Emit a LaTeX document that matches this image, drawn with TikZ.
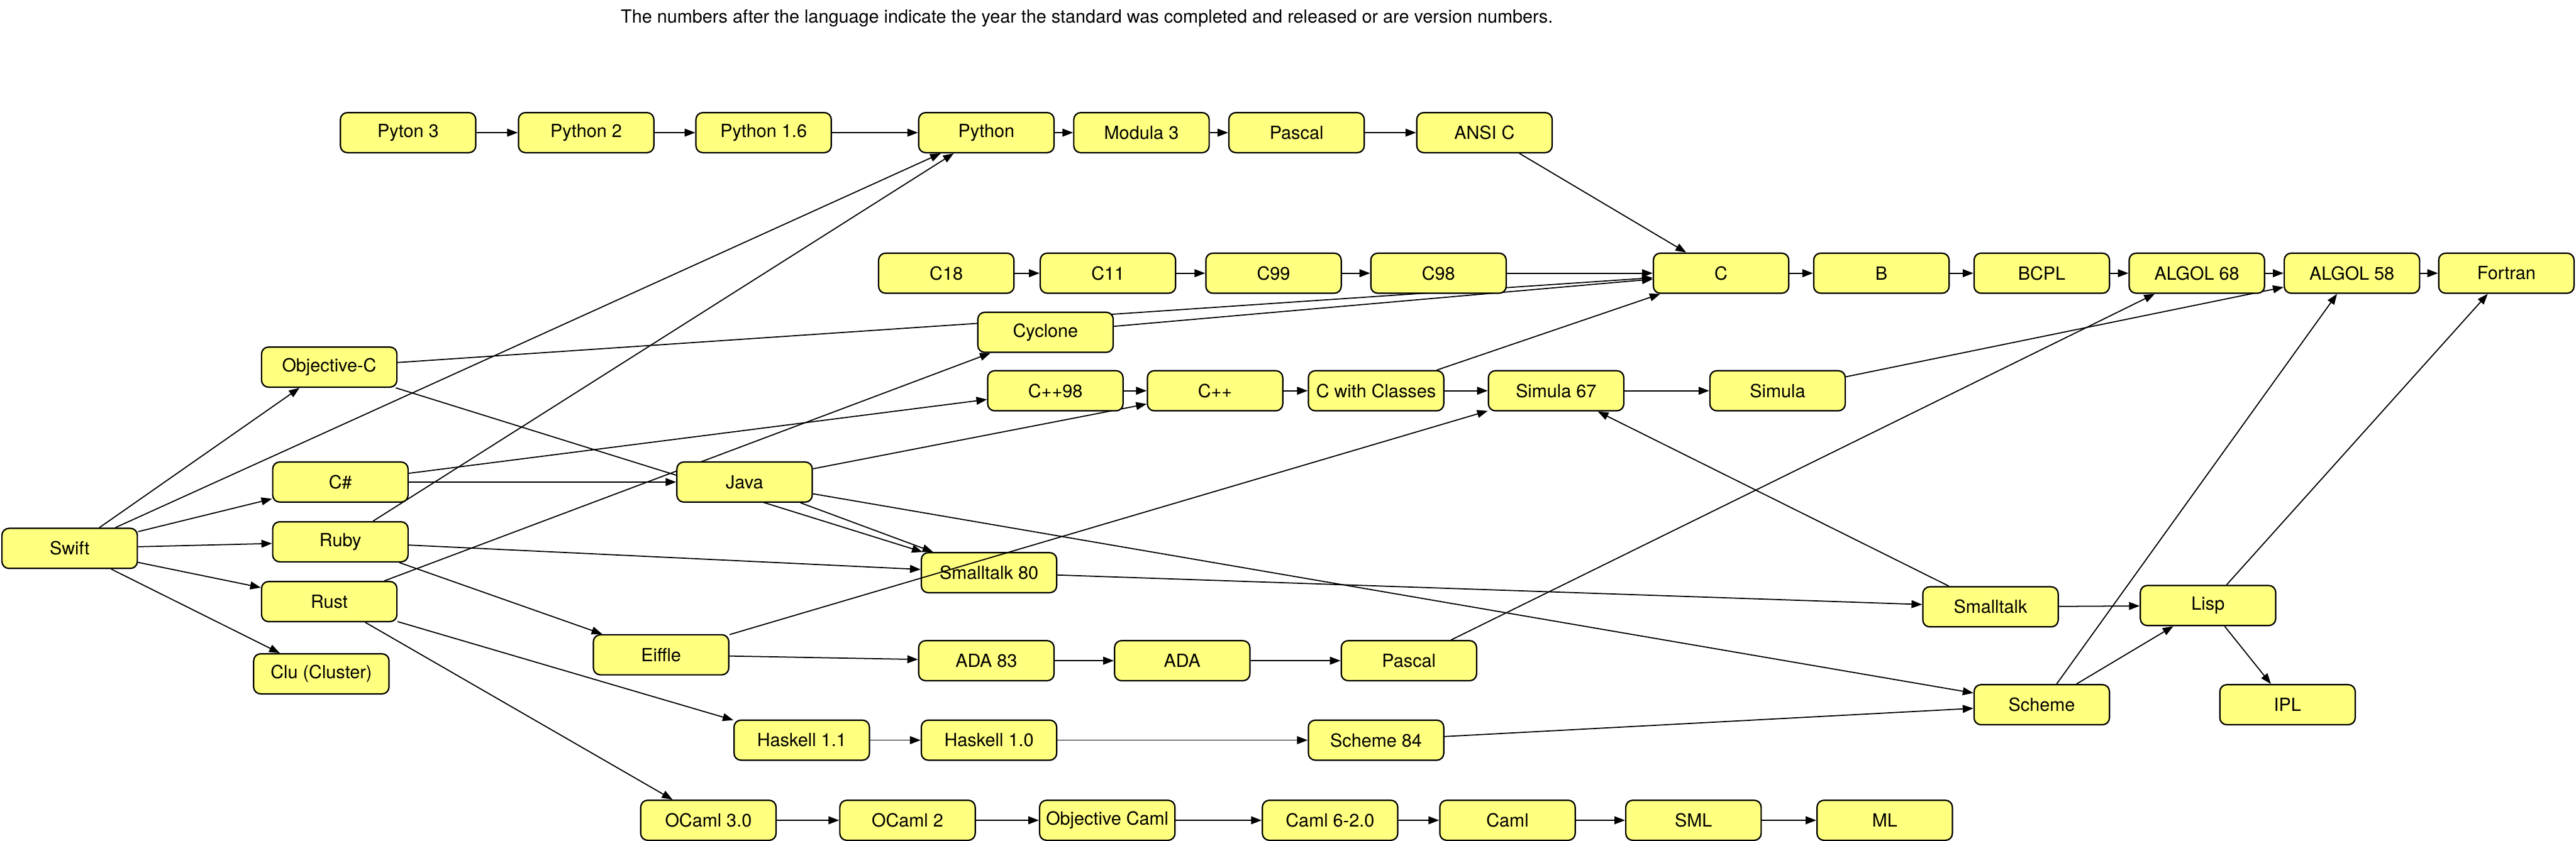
\documentclass[tikz,border=0pt]{standalone}
\usepackage{fontspec}
\setmainfont{TeX Gyre Heros}
\usetikzlibrary{arrows.meta,backgrounds}
\definecolor{langfill}{RGB}{255,255,128}
\tikzset{
  lang/.style={draw, line width=0.6pt, fill=langfill, rounded corners=3pt,
    minimum width=2.06cm, minimum height=0.61cm, inner sep=0pt,
    font=\fontsize{7.85}{9.4}\selectfont},
  link/.style={-{Triangle[length=4.6pt,width=3.4pt]}, line width=0.48pt}
}

\begin{document}
\begin{tikzpicture}
          \useasboundingbox (0,0) rectangle (39.2,12.8);
          \node[anchor=base, font=\fontsize{7.85}{9.4}\selectfont] (note) at (16.54,12.45) {The numbers after the language indicate the year the standard was completed and released or are version numbers.};
          % top row
          \node[lang] (pyton3) at (6.21,10.78) {Pyton 3};
          \node[lang] (python2) at (8.92,10.78) {Python 2};
          \node[lang] (python16) at (11.62,10.78) {Python 1.6};
          \node[lang] (python) at (15.01,10.78) {Python};
          \node[lang] (modula3) at (17.37,10.78) {Modula 3};
          \node[lang] (pascal) at (19.73,10.78) {Pascal};
          \node[lang] (ansic) at (22.59,10.78) {ANSI C};
          % C row
          \node[lang] (c18) at (14.40,8.64) {C18};
          \node[lang] (c11) at (16.86,8.64) {C11};
          \node[lang] (c99) at (19.38,8.64) {C99};
          \node[lang] (c98) at (21.89,8.64) {C98};
          \node[lang] (c) at (26.19,8.64) {C};
          \node[lang] (b) at (28.63,8.64) {B};
          \node[lang] (bcpl) at (31.07,8.64) {BCPL};
          \node[lang] (algol68) at (33.43,8.64) {ALGOL 68};
          \node[lang] (algol58) at (35.79,8.64) {ALGOL 58};
          \node[lang] (fortran) at (38.14,8.64) {Fortran};
          \node[lang] (cyclone) at (15.91,7.74) {Cyclone};
          \node[lang] (objc) at (5.01,7.21) {Objective-C};
          % C++ row
          \node[lang] (cpp98) at (16.06,6.85) {C++98};
          \node[lang] (cpp) at (18.49,6.85) {C++};
          \node[lang] (cwc) at (20.94,6.85) {C with Classes};
          \node[lang] (simula67) at (23.68,6.85) {Simula 67};
          \node[lang] (simula) at (27.05,6.85) {Simula};
          % middle
          \node[lang] (csharp) at (5.18,5.46) {C\#};
          \node[lang] (java) at (11.33,5.46) {Java};
          \node[lang] (ruby) at (5.18,4.55) {Ruby};
          \node[lang] (swift) at (1.06,4.45) {Swift};
          \node[lang] (st80) at (15.05,4.08) {Smalltalk 80};
          \node[lang] (rust) at (5.01,3.64) {Rust};
          \node[lang] (smalltalk) at (30.29,3.56) {Smalltalk};
          \node[lang] (lisp) at (33.60,3.58) {Lisp};
          \node[lang] (eiffle) at (10.06,2.83) {Eiffle};
          \node[lang] (ada83) at (15.01,2.74) {ADA 83};
          \node[lang] (ada) at (17.99,2.74) {ADA};
          \node[lang] (pascal2) at (21.44,2.74) {Pascal};
          \node[lang] (clu) at (4.89,2.54) {Clu (Cluster)};
          \node[lang] (scheme) at (31.07,2.07) {Scheme};
          \node[lang] (ipl) at (34.81,2.07) {IPL};
          % bottom rows
          \node[lang] (haskell11) at (12.20,1.53) {Haskell 1.1};
          \node[lang] (haskell10) at (15.05,1.53) {Haskell 1.0};
          \node[lang] (scheme84) at (20.94,1.53) {Scheme 84};
          \node[lang] (ocaml3) at (10.78,0.31) {OCaml 3.0};
          \node[lang] (ocaml2) at (13.81,0.31) {OCaml 2};
          \node[lang] (objcaml) at (16.85,0.31) {Objective Caml};
          \node[lang] (caml6) at (20.24,0.31) {Caml 6-2.0};
          \node[lang] (caml) at (22.94,0.31) {Caml};
          \node[lang] (sml) at (25.77,0.31) {SML};
          \node[lang] (ml) at (28.68,0.31) {ML};

          \begin{pgfonlayer}{background}
          \draw[link] (pyton3) -- (python2);
          \draw[link] (python2) -- (python16);
          \draw[link] (python16) -- (python);
          \draw[link] (python) -- (modula3);
          \draw[link] (modula3) -- (pascal);
          \draw[link] (pascal) -- (ansic);
          \draw[link] (ansic) -- (c);
          \draw[link] (c18) -- (c11);
          \draw[link] (c11) -- (c99);
          \draw[link] (c99) -- (c98);
          \draw[link] (c98) -- (c);
          \draw[link] (c) -- (b);
          \draw[link] (b) -- (bcpl);
          \draw[link] (bcpl) -- (algol68);
          \draw[link] (algol68) -- (algol58);
          \draw[link] (algol58) -- (fortran);
          \draw[link] (objc) -- (c);
          \draw[link] (cyclone) -- (c);
          \draw[link] (cwc) -- (c);
          \draw[link] (cpp98) -- (cpp);
          \draw[link] (cpp) -- (cwc);
          \draw[link] (cwc) -- (simula67);
          \draw[link] (simula67) -- (simula);
          \draw[link] (simula) -- (algol58);
          \draw[link] (swift) -- (objc);
          \draw[link] (swift) -- (python);
          \draw[link] (swift) -- (csharp);
          \draw[link] (swift) -- (ruby);
          \draw[link] (swift) -- (rust);
          \draw[link] (swift) -- (clu);
          \draw[link] (objc) -- (st80);
          \draw[link] (ruby) -- (python);
          \draw[link] (csharp) -- (java);
          \draw[link] (csharp) -- (cpp98);
          \draw[link] (java) -- (cpp);
          \draw[link] (java) -- (st80);
          \draw[link] (java) -- (scheme);
          \draw[link] (ruby) -- (st80);
          \draw[link] (ruby) -- (eiffle);
          \draw[link] (rust) -- (cyclone);
          \draw[link] (rust) -- (haskell11);
          \draw[link] (rust) -- (ocaml3);
          \draw[link] (eiffle) -- (ada83);
          \draw[link] (ada83) -- (ada);
          \draw[link] (ada) -- (pascal2);
          \draw[link] (pascal2) -- (algol68);
          \draw[link] (haskell11) -- (haskell10);
          \draw[link] (haskell10) -- (scheme84);
          \draw[link] (scheme84) -- (scheme);
          \draw[link] (ocaml3) -- (ocaml2);
          \draw[link] (ocaml2) -- (objcaml);
          \draw[link] (objcaml) -- (caml6);
          \draw[link] (caml6) -- (caml);
          \draw[link] (caml) -- (sml);
          \draw[link] (sml) -- (ml);
          \draw[link] (st80) -- (smalltalk);
          \draw[link] (smalltalk) -- (simula67);
          \draw[link] (smalltalk) -- (lisp);
          \draw[link] (scheme) -- (lisp);
          \draw[link] (scheme) -- (algol58);
          \draw[link] (lisp) -- (fortran);
          \draw[link] (lisp) -- (ipl);
          \end{pgfonlayer}
          \draw[link] (eiffle) -- (simula67);
\end{tikzpicture}
\end{document}
